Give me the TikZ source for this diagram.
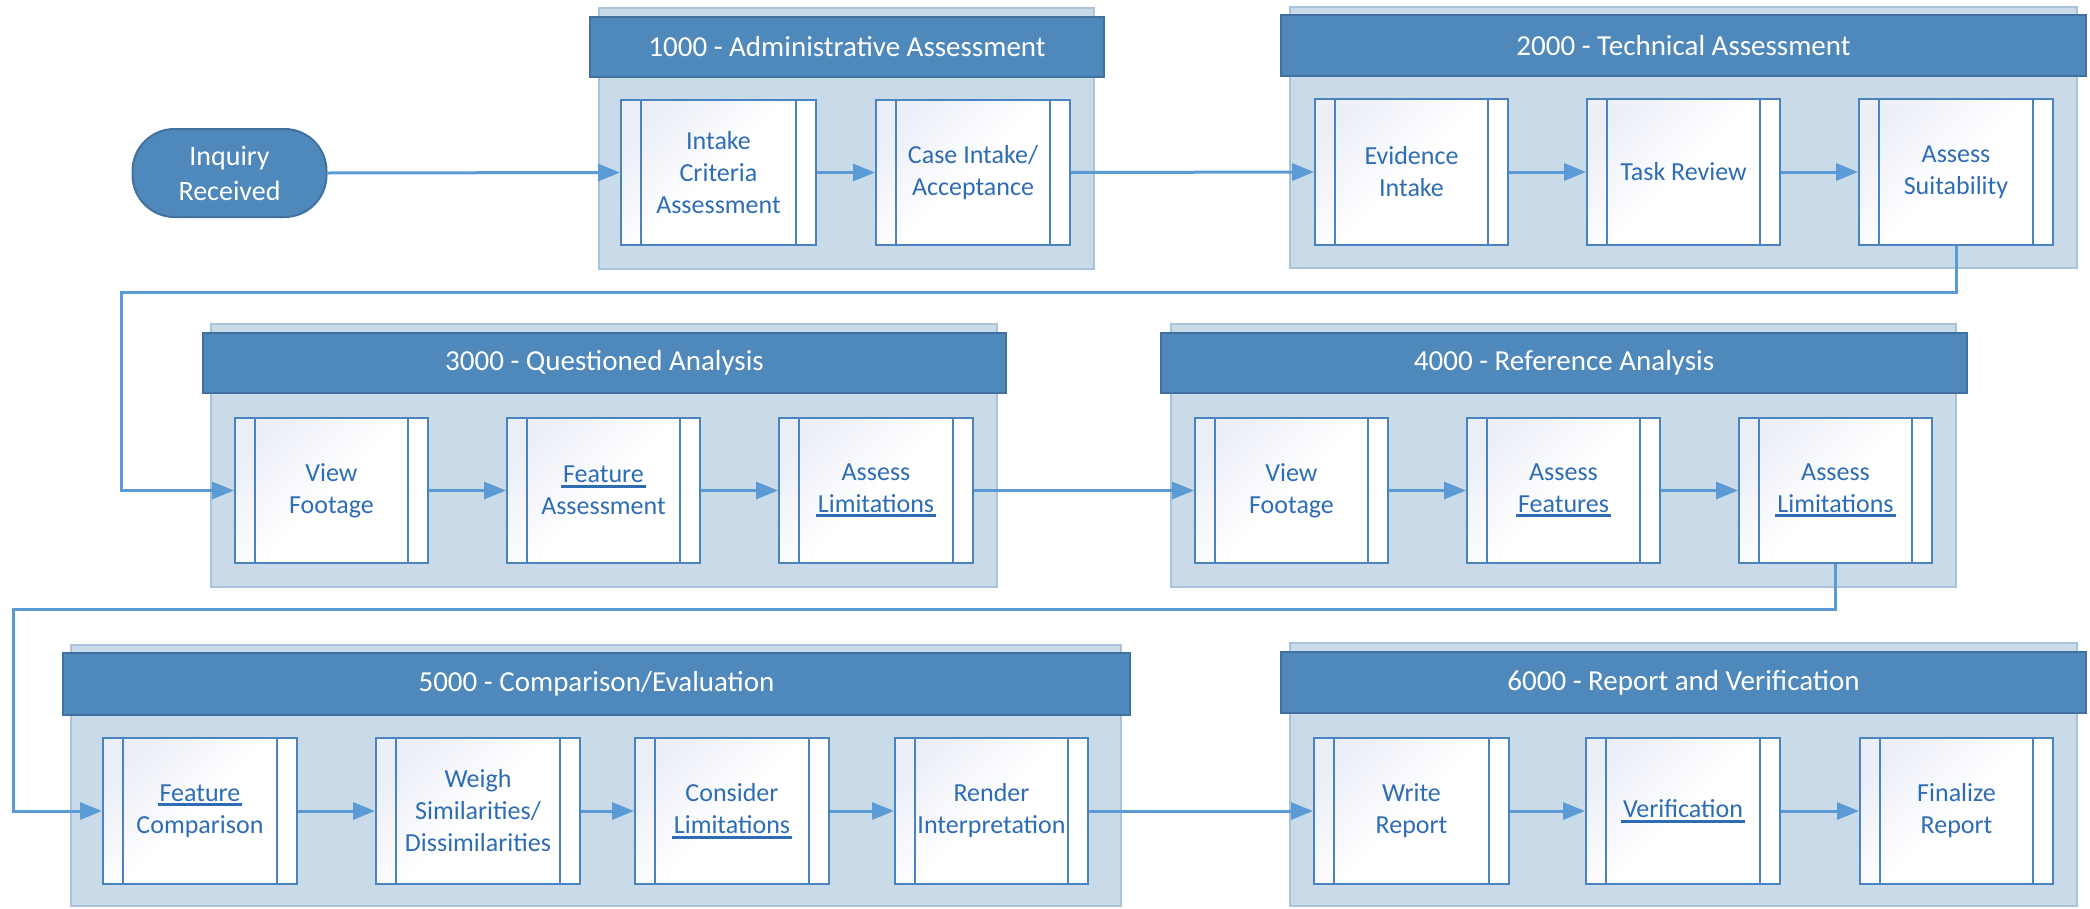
\documentclass[tikz,border=0pt]{standalone}
\usepackage{fontspec}
\setmainfont{Carlito}
\usetikzlibrary{arrows.meta}
\definecolor{hdrfill}{HTML}{4F88BB}
\definecolor{hdrdraw}{HTML}{41719F}
\definecolor{bgfill}{HTML}{C9DBE9}
\definecolor{bgdraw}{HTML}{A9C3DA}
\definecolor{boxdraw}{HTML}{4A83C0}
\definecolor{boxtext}{HTML}{2E6DB4}
\definecolor{boxshade}{HTML}{ECEFF8}
\definecolor{conncol}{HTML}{5B9BD5}
\newcommand\ulw[1]{\leavevmode\setbox0\hbox{#1}\rlap{\kern-2pt\raisebox{-5pt}{\rule{\dimexpr\wd0+4pt\relax}{3pt}}}\box0}
\tikzset{
  grpbg/.style={fill=bgfill, draw=bgdraw, line width=2pt, inner sep=0pt},
  hdrbox/.style={fill=hdrfill, draw=hdrdraw, line width=2pt, text=white, inner sep=0pt,
    font=\fontsize{29}{34}\selectfont},
  procbox/.style={draw=boxdraw, line width=2pt, inner sep=0pt, text=boxtext, align=center,
    font=\fontsize{26}{32}\selectfont,
    top color=boxshade, bottom color=white, middle color=white, shading angle=45,
    path picture={\draw[boxdraw, line width=2pt]
      ([xshift=20pt]path picture bounding box.north west) -- ([xshift=20pt]path picture bounding box.south west)
      ([xshift=-20pt]path picture bounding box.north east) -- ([xshift=-20pt]path picture bounding box.south east);}},
  startbox/.style={fill=hdrfill, draw=hdrdraw, line width=2pt, rounded corners=42pt, text=white,
    align=center, inner sep=0pt, font=\fontsize{28}{35}\selectfont},
  conn/.style={draw=conncol, line width=3pt, -{Triangle[length=22pt,width=17pt]}},
}
\newcommand\grpnode[5]{\node[grpbg, minimum width={#4-#2}, minimum height={#5-#3}] (#1) at ({(#2+#4)/2},{(#3+#5)/2}) {};}
\newcommand\hdrnode[6]{\node[hdrbox, minimum width={#4-#2}, minimum height={#5-#3}] (#1) at ({(#2+#4)/2},{(#3+#5)/2}) {#6};}
\newcommand\procnode[6]{\node[procbox, minimum width={#4-#2}, minimum height={#5-#3}] (#1) at ({(#2+#4)/2},{(#3+#5)/2}) {#6};}
\begin{document}
\begin{tikzpicture}[x=1pt,y=-1pt]
\useasboundingbox (0,0) rectangle (2090,908);
% groups
\grpnode{g1}{599}{8}{1094}{269}
\hdrnode{h1}{590}{17}{1104}{77}{1000 - Administrative Assessment}
\grpnode{g2}{1290}{7}{2077}{268}
\hdrnode{h2}{1281}{15}{2086}{76}{2000 - Technical Assessment}
\grpnode{g3}{211}{324}{997}{587}
\hdrnode{h3}{203}{333}{1006}{393}{3000 - Questioned Analysis}
\grpnode{g4}{1171}{324}{1956}{587}
\hdrnode{h4}{1161}{333}{1967}{393}{4000 - Reference Analysis}
\grpnode{g5}{71}{645}{1121}{906}
\hdrnode{h5}{63}{653}{1130}{715}{5000 - Comparison/Evaluation}
\grpnode{g6}{1290}{643}{2077}{906}
\hdrnode{h6}{1281}{652}{2086}{713}{6000 - Report and Verification}
% start
\node[startbox, minimum width=194pt, minimum height=88pt] (inq) at (229.5,173) {Inquiry\\Received};
% row 1
\procnode{intake}{621}{100}{816}{245}{Intake\\Criteria\\Assessment}
\procnode{case}{876}{100}{1070}{245}{Case Intake/\\Acceptance}
\procnode{evid}{1315}{99}{1508}{245}{Evidence\\Intake}
\procnode{task}{1587}{99}{1780}{245}{Task Review}
\procnode{suit}{1859}{99}{2053}{245}{Assess\\Suitability}
% row 2
\procnode{vfa}{235}{418}{428}{563}{View\\Footage}
\procnode{fa}{507}{418}{700}{563}{\ulw{Feature}\\Assessment}
\procnode{ala}{779}{418}{973}{563}{Assess\\\ulw{Limitations}}
\procnode{vfb}{1195}{418}{1388}{563}{View\\Footage}
\procnode{af}{1467}{418}{1660}{563}{Assess\\\ulw{Features}}
\procnode{alb}{1739}{418}{1932}{563}{Assess\\\ulw{Limitations}}
% row 3
\procnode{fc}{103}{738}{297}{884}{\ulw{Feature}\\Comparison}
\procnode{weigh}{376}{738}{580}{884}{Weigh\\Similarities/\\Dissimilarities}
\procnode{cl}{635}{738}{829}{884}{Consider\\\ulw{Limitations}}
\procnode{ri}{895}{738}{1088}{884}{Render\\Interpretation}
\procnode{wr}{1314}{738}{1509}{884}{Write\\Report}
\procnode{ver}{1586}{738}{1780}{884}{\ulw{Verification}}
\procnode{fin}{1860}{738}{2053}{884}{Finalize\\Report}
% turn points
\coordinate (t1) at (121,292);
\coordinate (t2) at (13,609);
% connectors
\draw[conn] (inq.east) -- (intake.west);
\draw[conn] (intake.east) -- (case.west);
\draw[conn] (case.east) -- (evid.west);
\draw[conn] (evid.east) -- (task.west);
\draw[conn] (task.east) -- (suit.west);
\draw[conn] (suit.south) |- (t1) |- (vfa.west);
\draw[conn] (vfa.east) -- (fa.west);
\draw[conn] (fa.east) -- (ala.west);
\draw[conn] (ala.east) -- (vfb.west);
\draw[conn] (vfb.east) -- (af.west);
\draw[conn] (af.east) -- (alb.west);
\draw[conn] (alb.south) |- (t2) |- (fc.west);
\draw[conn] (fc.east) -- (weigh.west);
\draw[conn] (weigh.east) -- (cl.west);
\draw[conn] (cl.east) -- (ri.west);
\draw[conn] (ri.east) -- (wr.west);
\draw[conn] (wr.east) -- (ver.west);
\draw[conn] (ver.east) -- (fin.west);
\end{tikzpicture}
\end{document}
